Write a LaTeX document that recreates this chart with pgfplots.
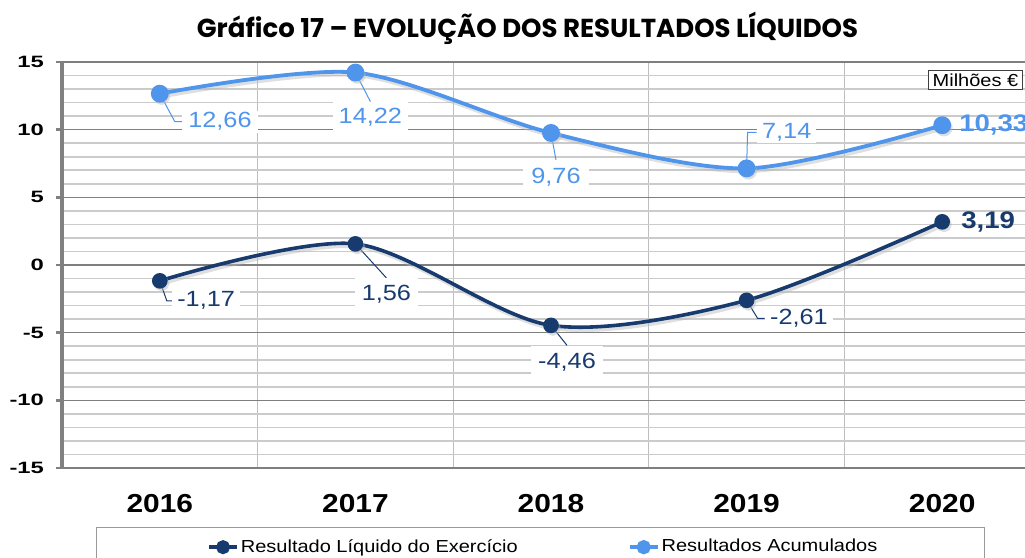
\documentclass[border=0pt]{standalone}
\usepackage{pgfplots}
\pgfplotsset{compat=1.18}
\usepackage{pgfplotstable}
\usepackage{fontspec}
\setmainfont{Liberation Sans}[FakeStretch=1.15]
\newfontfamily\tickfont{Liberation Sans}[FakeStretch=1.45]
\newfontfamily\titlefont{Poppins}
\definecolor{navy}{HTML}{173B6E}
\definecolor{lblue}{HTML}{4F95EC}
\definecolor{gridmaj}{HTML}{7F7F7F}
\definecolor{gridmin}{HTML}{CBCBCB}
\definecolor{gridvert}{HTML}{BEBEBE}

\pgfplotstableread{
x res acc
0 -1.17 12.66
1 1.56 14.22
2 -4.46 9.76
3 -2.61 7.14
4 3.19 10.33
}\results

\begin{document}
\begin{tikzpicture}
\begin{axis}[
  at={(0,0)}, anchor=south west,
  scale only axis, width=489pt, height=203pt,
  xmin=-0.5, xmax=4.5, ymin=-15, ymax=15,
  clip=false,
  xtick={0,...,4}, xticklabels={2016,2017,2018,2019,2020},
  minor xtick={0.5,1.5,2.5,3.5},
  xminorgrids, minor x grid style={gridvert, line width=0.5pt},
  ytick={-15,-10,...,15}, minor y tick num=4,
  ymajorgrids, yminorgrids,
  major y grid style={gridmaj, line width=0.6pt},
  minor y grid style={gridmin, line width=0.8pt},
  axis x line*=bottom, axis y line*=left,
  x axis line style={gridmaj, line width=0.6pt, -},
  y axis line style={gray, line width=1.6pt, -},
  tick align=outside, major tick length=3pt, minor tick length=0pt,
  xtick style={draw=none}, ytick style={gray, line width=1.2pt},
  extra y ticks={0}, extra y tick labels={},
  extra y tick style={grid=major, major grid style={gray, line width=1.5pt}, tick style={draw=none}},
  /pgf/number format/assume math mode=true,
  yticklabel style={font=\tickfont\bfseries\fontsize{8.2}{9}\selectfont, xshift=-2.5pt},
  xticklabel style={font=\bfseries\fontsize{13}{15}\selectfont, yshift=-6.5pt},
  legend columns=2,
  legend style={draw=none, fill=none, at={(0.142,-0.195)}, anchor=west,
    font=\fontsize{8.7}{10}\selectfont, nodes={inner sep=1pt},
    /tikz/every even column/.append style={column sep=54pt}},
  legend image code/.code={\draw[mark repeat=2,mark phase=2,#1,mark size=2.6pt] plot coordinates {(0pt,0pt) (7pt,0pt) (14pt,0pt)};},
]
% shadows
\addplot[gray!55, opacity=0.45, line width=2.2pt, smooth, mark=*, mark size=2.8pt, forget plot, xshift=0.9pt, yshift=-1.3pt] table[x=x, y=res]{\results};
\addplot[gray!55, opacity=0.45, line width=2.2pt, smooth, mark=*, mark size=3.2pt, forget plot, xshift=0.9pt, yshift=-1.3pt] table[x=x, y=acc]{\results};
% series
\addplot[navy, line width=1.8pt, smooth, mark=*, mark size=3pt] table[x=x, y=res]{\results};
\addplot[lblue, line width=1.9pt, smooth, mark=*, mark size=3.5pt] table[x=x, y=acc]{\results};
\legend{Resultado Líquido do Exercício, Resultados Acumulados}

% data labels
\tikzset{dl/.style={fill=white, font=\fontsize{11}{12}\selectfont}}
\draw[lblue, line width=0.5pt] (axis cs:0,12.66) -- ++(7.5pt,-14pt) -- ++(3.5pt,0pt) node[dl, anchor=west, text=lblue, inner xsep=3pt, inner ysep=1pt] {12,66};
\draw[lblue, line width=0.5pt] (axis cs:1,14.22) -- ++(7.5pt,-14.5pt) node[dl, anchor=north, text=lblue, inner sep=3pt] {14,22};
\draw[lblue, line width=0.5pt] (axis cs:2,9.76) -- ++(2.5pt,-13.5pt) node[dl, anchor=north, text=lblue, inner sep=4pt] {9,76};
\draw[lblue, line width=0.5pt] (axis cs:3,7.14) -- ++(0.5pt,18pt) -- ++(4.5pt,0pt) node[dl, anchor=west, text=lblue, inner xsep=2.5pt, inner ysep=1pt] {7,14};
\node[anchor=west, text=lblue, font=\bfseries\fontsize{12}{13}\selectfont] at ([xshift=5pt]axis cs:4,10.33) {10,33};
\draw[navy, line width=0.5pt] (axis cs:0,-1.17) -- ++(3.5pt,-10pt) -- ++(2.5pt,0pt) node[dl, anchor=west, text=navy, inner xsep=2.5pt, inner ysep=1pt] {-1,17};
\draw[navy, line width=0.5pt] (axis cs:1,1.56) -- ++(15.5pt,-17pt) node[dl, anchor=north, text=navy, inner sep=3.5pt] {1,56};
\draw[navy, line width=0.5pt] (axis cs:2,-4.46) -- ++(8pt,-10pt) node[dl, anchor=north, text=navy, inner sep=3.5pt] {-4,46};
\draw[navy, line width=0.5pt] (axis cs:3,-2.61) -- ++(5.5pt,-9pt) -- ++(3.5pt,0pt) node[dl, anchor=west, text=navy, inner xsep=2.5pt, inner ysep=1pt] {-2,61};
\node[anchor=west, text=navy, font=\bfseries\fontsize{12}{13}\selectfont] at ([xshift=6pt]axis cs:4,3.19) {3,19};
\end{axis}
% title, unit box, legend frame
\node[anchor=base, font=\titlefont\bfseries\fontsize{13}{15}\selectfont] at (232.75pt,215pt) {Gráfico 17 – EVOLUÇÃO DOS RESULTADOS LÍQUIDOS};
\node[draw=black!75, fill=white, line width=0.5pt, inner xsep=2pt, inner ysep=1.5pt, font=\fontsize{8.7}{10}\selectfont] at (456.75pt,194pt) {Milhões €};
\draw[gray!80, line width=0.5pt] (17.5pt,-70pt) -- (17.5pt,-29.5pt) -- (461pt,-29.5pt) -- (461pt,-70pt);
\pgfresetboundingbox
\useasboundingbox (-31pt,-45pt) rectangle (481.5pt,234pt);
\end{tikzpicture}
\end{document}
